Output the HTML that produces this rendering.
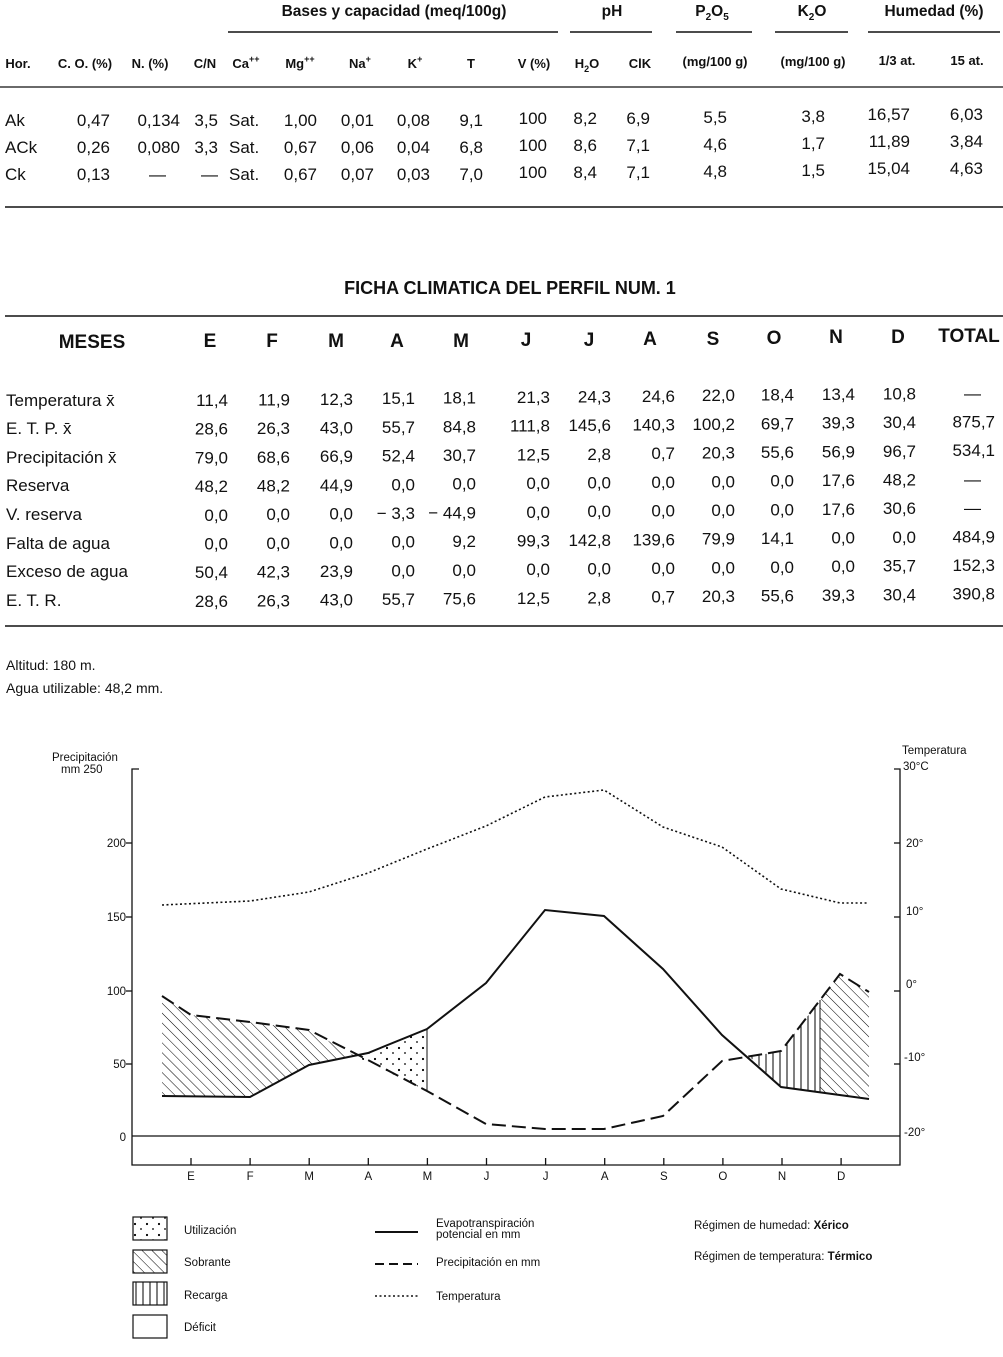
<!DOCTYPE html>
<html><head><meta charset="utf-8"><style>
html,body{margin:0;padding:0;background:#fff;}
svg{display:block;font-family:"Liberation Sans",sans-serif;}
.b{font-weight:bold;}
</style></head><body>
<svg width="1003" height="1357" viewBox="0 0 1003 1357" xmlns="http://www.w3.org/2000/svg">
<defs>
<pattern id="diag" width="7" height="7" patternUnits="userSpaceOnUse" patternTransform="rotate(-45)">
<line x1="0" y1="0" x2="0" y2="7" stroke="#000" stroke-width="1"/></pattern>
<pattern id="vert" width="7" height="7" patternUnits="userSpaceOnUse">
<line x1="3" y1="0" x2="3" y2="7" stroke="#000" stroke-width="1"/></pattern>
<pattern id="dots" width="12" height="11" patternUnits="userSpaceOnUse">
<circle cx="3" cy="3" r="1.1" fill="#000"/><circle cx="9" cy="8" r="0.9" fill="#000"/></pattern>
</defs>
<g fill="#111">
<g class="b" font-size="15.5" text-anchor="middle">
<text x="394" y="16">Bases y capacidad (meq/100g)</text>
<text x="612" y="16">pH</text>
<text x="712" y="16">P<tspan font-size="10" dy="4">2</tspan><tspan dy="-4">O</tspan><tspan font-size="10" dy="4">5</tspan></text>
<text x="812" y="16">K<tspan font-size="10" dy="4">2</tspan><tspan dy="-4">O</tspan></text>
<text x="934" y="16">Humedad (%)</text>
</g>
<g stroke="#111" stroke-width="1.5">
<line x1="228" y1="32" x2="558" y2="32"/><line x1="570" y1="32" x2="652" y2="32"/>
<line x1="676" y1="32" x2="752" y2="32"/><line x1="775" y1="32" x2="848" y2="32"/>
<line x1="868" y1="32" x2="1000" y2="32"/>
<line x1="0" y1="87" x2="1003" y2="87" stroke-width="1.2"/>
<line x1="5" y1="207" x2="1003" y2="207"/>
<line x1="5" y1="316" x2="1003" y2="316"/>
<line x1="5" y1="626" x2="1003" y2="626"/>
</g>
<g class="b" font-size="13" text-anchor="middle">
<text x="18" y="68">Hor.</text><text x="85" y="68">C. O. (%)</text><text x="150" y="68">N. (%)</text>
<text x="205" y="68">C/N</text><text x="246" y="68">Ca<tspan font-size="9" dy="-6">++</tspan></text>
<text x="300" y="68">Mg<tspan font-size="9" dy="-6">++</tspan></text><text x="360" y="68">Na<tspan font-size="9" dy="-6">+</tspan></text>
<text x="415" y="68">K<tspan font-size="9" dy="-6">+</tspan></text><text x="471" y="68">T</text><text x="534" y="68">V (%)</text>
<text x="587" y="68">H<tspan font-size="9" dy="4">2</tspan><tspan dy="-4">O</tspan></text><text x="640" y="68">ClK</text>
<text x="715" y="66">(mg/100 g)</text><text x="813" y="66">(mg/100 g)</text>
<text x="897" y="65">1/3 at.</text><text x="967" y="65">15 at.</text>
</g>
<g font-size="17">
<text x="5" y="126">Ak</text><text x="5" y="153">ACk</text><text x="5" y="180">Ck</text>
<text x="229" y="126">Sat.</text><text x="229" y="153">Sat.</text><text x="229" y="180">Sat.</text>
</g>
<g font-size="17" text-anchor="end">
<text x="110" y="126">0,47</text><text x="110" y="153">0,26</text><text x="110" y="180">0,13</text>
<text x="180" y="126">0,134</text><text x="180" y="153">0,080</text><text x="166" y="180">—</text>
<text x="218" y="126">3,5</text><text x="218" y="153">3,3</text><text x="218" y="180">—</text>
<text x="317" y="126">1,00</text><text x="317" y="153">0,67</text><text x="317" y="180">0,67</text>
<text x="374" y="126">0,01</text><text x="374" y="153">0,06</text><text x="374" y="180">0,07</text>
<text x="430" y="126">0,08</text><text x="430" y="153">0,04</text><text x="430" y="180">0,03</text>
<text x="483" y="126">9,1</text><text x="483" y="153">6,8</text><text x="483" y="180">7,0</text>
<text x="547" y="124">100</text><text x="547" y="151">100</text><text x="547" y="178">100</text>
<text x="597" y="124">8,2</text><text x="597" y="151">8,6</text><text x="597" y="178">8,4</text>
<text x="650" y="124">6,9</text><text x="650" y="151">7,1</text><text x="650" y="178">7,1</text>
<text x="727" y="123">5,5</text><text x="727" y="150">4,6</text><text x="727" y="177">4,8</text>
<text x="825" y="122">3,8</text><text x="825" y="149">1,7</text><text x="825" y="176">1,5</text>
<text x="910" y="120">16,57</text><text x="910" y="147">11,89</text><text x="910" y="174">15,04</text>
<text x="983" y="120">6,03</text><text x="983" y="147">3,84</text><text x="983" y="174">4,63</text>
</g>
<text class="b" x="510" y="294" font-size="18" text-anchor="middle">FICHA CLIMATICA DEL PERFIL NUM. 1</text>
<g class="b" font-size="19" text-anchor="middle">
<text x="92" y="348">MESES</text><text x="210" y="347">E</text><text x="272" y="347">F</text><text x="336" y="347">M</text>
<text x="397" y="347">A</text><text x="461" y="347">M</text><text x="526" y="346">J</text><text x="589" y="346">J</text>
<text x="650" y="345">A</text><text x="713" y="345">S</text><text x="774" y="344">O</text><text x="836" y="343">N</text>
<text x="898" y="343">D</text><text x="969" y="342">TOTAL</text>
</g>
<g font-size="17">
<text x="6" y="406">Temperatura x̄</text><text x="6" y="434">E. T. P. x̄</text><text x="6" y="463">Precipitación x̄</text>
<text x="6" y="491">Reserva</text><text x="6" y="520">V. reserva</text><text x="6" y="549">Falta de agua</text>
<text x="6" y="577">Exceso de agua</text><text x="6" y="606">E. T. R.</text>
</g>
<g font-size="17" text-anchor="end" id="t2"></g>
<text x="6" y="670" font-size="14">Altitud: 180 m.</text>
<text x="6" y="693" font-size="14">Agua utilizable: 48,2 mm.</text>
<g font-size="11.5">
<text x="52" y="761">Precipitación</text><text x="61" y="773">mm 250</text>
<text x="902" y="754">Temperatura</text><text x="903" y="770">30°C</text>
<g text-anchor="end"><text x="126" y="847">200</text><text x="126" y="921">150</text><text x="126" y="995">100</text>
<text x="126" y="1068">50</text><text x="126" y="1141">0</text></g>
<text x="906" y="847">20°</text><text x="906" y="915">10°</text><text x="906" y="988">0°</text>
<text x="904" y="1061">-10°</text><text x="904" y="1136">-20°</text>
</g>
<g stroke="#111" fill="none" stroke-width="1.3">
<polyline points="139,769 132,769 132,1165 900,1165 900,769 894,769"/>
<line x1="132" y1="1136" x2="900" y2="1136"/>
<g><line x1="132" y1="843" x2="126" y2="843"/><line x1="132" y1="917" x2="126" y2="917"/><line x1="132" y1="991" x2="126" y2="991"/><line x1="132" y1="1064" x2="126" y2="1064"/>
<line x1="900" y1="843" x2="894" y2="843"/><line x1="900" y1="917" x2="894" y2="917"/><line x1="900" y1="991" x2="894" y2="991"/><line x1="900" y1="1064" x2="894" y2="1064"/></g>
</g>
<g stroke="#111" stroke-width="1.3" id="ticks"></g>
<g font-size="11.5" text-anchor="middle" id="mlab"></g>
<polygon points="162,996 191,1015 250,1022 309,1030 355,1056 368,1053 309,1065 250,1097 162,1096" fill="url(#diag)"/>
<polygon points="355,1056 368,1053 427,1029 427,1091" fill="url(#dots)"/>
<line x1="427" y1="1029" x2="427" y2="1091" stroke="#111" stroke-width="1"/>
<polygon points="750,1057 781,1051 820,1000 820,1093 781,1087" fill="url(#vert)"/>
<polygon points="820,1000 840,974 869,992 869,1099 820,1093" fill="url(#diag)"/>
<line x1="820" y1="1000" x2="820" y2="1093" stroke="#111" stroke-width="1"/>
<g fill="none" stroke="#111">
<polyline stroke-width="2" points="162,1096 250,1097 309,1065 368,1053 427,1029 486,983 545,910 604,916 663,969 722,1035 781,1087 869,1099"/>
<polyline stroke-width="2" stroke-dasharray="14,6" points="162,996 191,1015 250,1022 309,1030 368,1060 427,1091 486,1124 545,1129 604,1129 663,1116 722,1061 781,1051 840,974 869,992"/>
<polyline stroke-width="1.6" stroke-dasharray="2,2.5" points="162,905 250,901 309,892 368,873 427,849 486,826 545,797 604,790 663,827 722,847 781,889 840,903 869,903"/>
</g>
<g stroke="#111" stroke-width="1.2">
<rect x="133" y="1217" width="34" height="23" fill="url(#dots)"/>
<rect x="133" y="1250" width="34" height="23" fill="url(#diag)"/>
<rect x="133" y="1282" width="34" height="23" fill="url(#vert)"/>
<rect x="133" y="1315" width="34" height="23" fill="none"/>
<line x1="375" y1="1232" x2="418" y2="1232" stroke-width="2"/>
<line x1="375" y1="1264" x2="418" y2="1264" stroke-width="2" stroke-dasharray="9,5"/>
<line x1="375" y1="1296" x2="418" y2="1296" stroke-width="1.6" stroke-dasharray="2,2.5"/>
</g>
<g font-size="11.5">
<text x="184" y="1234">Utilización</text><text x="184" y="1266">Sobrante</text>
<text x="184" y="1299">Recarga</text><text x="184" y="1331">Déficit</text>
<text x="436" y="1227">Evapotranspiración</text><text x="436" y="1238">potencial en mm</text>
<text x="436" y="1266">Precipitación en mm</text><text x="436" y="1300">Temperatura</text>
<text x="694" y="1229">Régimen de humedad: <tspan font-weight="bold">Xérico</tspan></text>
<text x="694" y="1260">Régimen de temperatura: <tspan font-weight="bold">Térmico</tspan></text>
</g>
</g>
<script>
var ns="http://www.w3.org/2000/svg";
var rows=[
["11,4","11,9","12,3","15,1","18,1","21,3","24,3","24,6","22,0","18,4","13,4","10,8","—"],
["28,6","26,3","43,0","55,7","84,8","111,8","145,6","140,3","100,2","69,7","39,3","30,4","875,7"],
["79,0","68,6","66,9","52,4","30,7","12,5","2,8","0,7","20,3","55,6","56,9","96,7","534,1"],
["48,2","48,2","44,9","0,0","0,0","0,0","0,0","0,0","0,0","0,0","17,6","48,2","—"],
["0,0","0,0","0,0","− 3,3","− 44,9","0,0","0,0","0,0","0,0","0,0","17,6","30,6","—"],
["0,0","0,0","0,0","0,0","9,2","99,3","142,8","139,6","79,9","14,1","0,0","0,0","484,9"],
["50,4","42,3","23,9","0,0","0,0","0,0","0,0","0,0","0,0","0,0","0,0","35,7","152,3"],
["28,6","26,3","43,0","55,7","75,6","12,5","2,8","0,7","20,3","55,6","39,3","30,4","390,8"]];
var xs=[228,290,353,415,476,550,611,675,735,794,855,916,995];
var g=document.getElementById("t2");
rows.forEach(function(r,i){r.forEach(function(v,j){var t=document.createElementNS(ns,"text");
t.setAttribute("x",xs[j]);t.setAttribute("y",406+i*28.7-j*0.6);
if(j==12&&v=="—")t.setAttribute("x",981);t.textContent=v;g.appendChild(t);});});
var m=["E","F","M","A","M","J","J","A","S","O","N","D"],tk=document.getElementById("ticks"),ml=document.getElementById("mlab");
m.forEach(function(v,i){var x=191+i*59.1;var l=document.createElementNS(ns,"line");
l.setAttribute("x1",x);l.setAttribute("x2",x);l.setAttribute("y1",1158);l.setAttribute("y2",1165);tk.appendChild(l);
var t=document.createElementNS(ns,"text");t.setAttribute("x",x);t.setAttribute("y",1180);t.textContent=v;ml.appendChild(t);});
</script>
</svg>
</body></html>
